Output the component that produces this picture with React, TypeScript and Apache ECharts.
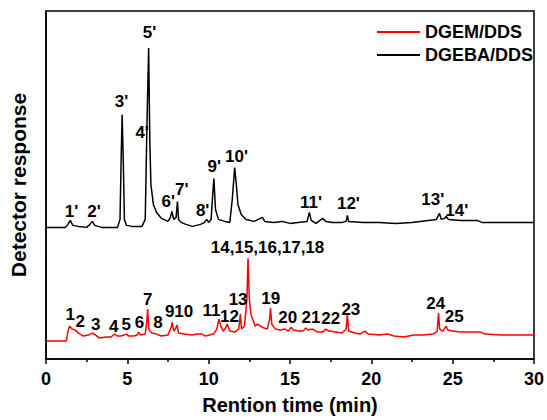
import React, { useEffect, useRef } from "react";
import * as echarts from "echarts";

const xTicks = [0, 5, 10, 15, 20, 25, 30];

// [time (min), response]
const dgemDds: [number, number][] = [
  [0, 18], [1.25, 18], [1.35, 28], [1.45, 33], [1.6, 30], [1.8, 29], [2.0, 26], [2.3, 23], [2.6, 24], [2.85, 26],
  [3.05, 24], [3.3, 21], [3.7, 22], [4.0, 22], [4.2, 25], [4.4, 23], [4.6, 23], [4.8, 24], [4.93, 25], [5.1, 23],
  [5.4, 23], [5.6, 24], [5.7, 27], [5.8, 24], [6.1, 25], [6.2, 38], [6.25, 50], [6.32, 30], [6.5, 26], [6.8, 25],
  [6.92, 24], [7.1, 23], [7.5, 24], [7.7, 32], [7.76, 37], [7.85, 28], [7.95, 30], [8.06, 34], [8.15, 26], [8.5, 25],
  [9.0, 24], [9.3, 25], [9.6, 25], [9.8, 23], [10.3, 25], [10.5, 30], [10.63, 40], [10.75, 33], [10.9, 28], [11.0, 30],
  [11.14, 35], [11.3, 28], [11.6, 27], [11.85, 30], [11.95, 45], [12.02, 30], [12.2, 33], [12.35, 60], [12.42, 101],
  [12.5, 60], [12.6, 45], [12.7, 40], [12.85, 33], [13.0, 35], [13.2, 33], [13.4, 31], [13.6, 30], [13.75, 40],
  [13.8, 51], [13.88, 35], [14.1, 30], [14.4, 29], [14.7, 30], [14.9, 28], [15.07, 32], [15.2, 29], [15.5, 28],
  [15.8, 28], [15.98, 31], [16.1, 29], [16.4, 30], [16.7, 27], [17.0, 27], [17.2, 30], [17.4, 28], [17.8, 27],
  [18.2, 26], [18.45, 30], [18.53, 45], [18.6, 28], [19.0, 26], [19.3, 25], [19.6, 28], [19.8, 25], [20.5, 24],
  [21.0, 25], [21.4, 23], [22.0, 22], [22.6, 24], [23.2, 24], [23.8, 25], [24.05, 28], [24.13, 46], [24.2, 30],
  [24.4, 28], [24.6, 33], [24.7, 29], [25.0, 28], [25.5, 27], [26.0, 27], [26.7, 27], [27.0, 25], [28, 24], [29, 24], [30, 24],
];

const dgebaDds: [number, number][] = [
  [0, 132], [1.2, 132], [1.35, 135], [1.49, 139], [1.65, 134], [2.0, 133], [2.5, 132], [2.7, 135], [2.85, 138],
  [3.0, 134], [3.4, 132], [4.0, 132], [4.4, 132], [4.55, 140], [4.62, 200], [4.68, 245], [4.75, 200], [4.82, 140],
  [4.95, 134], [5.3, 133], [5.9, 133], [6.1, 140], [6.2, 230], [6.31, 312], [6.38, 220], [6.45, 175], [6.6, 155],
  [6.8, 147], [7.1, 141], [7.5, 138], [7.65, 142], [7.74, 148], [7.85, 140], [8.0, 142], [8.08, 158], [8.15, 140],
  [8.3, 137], [8.6, 135], [9.0, 133], [9.5, 135], [9.75, 137], [9.88, 140], [10.0, 137], [10.15, 140], [10.25, 165],
  [10.32, 181], [10.42, 150], [10.6, 140], [11.0, 138], [11.3, 137], [11.45, 160], [11.6, 192], [11.7, 175],
  [11.8, 155], [12.0, 145], [12.3, 140], [12.8, 138], [13.3, 142], [13.45, 138], [14.0, 137], [14.5, 138],
  [15.0, 136], [15.5, 137], [16.05, 138], [16.19, 147], [16.3, 139], [16.6, 136], [17.0, 141], [17.2, 138],
  [17.6, 137], [18.2, 137], [18.45, 138], [18.53, 144], [18.6, 138], [19.5, 137], [20.5, 137], [21.5, 136],
  [22.5, 137], [23.5, 139], [24.0, 140], [24.19, 146], [24.3, 140], [24.5, 141], [24.6, 143], [24.75, 140],
  [25.5, 139], [26.5, 139], [26.8, 137], [28, 137], [30, 137],
];

// peak labels: [time, response, text]
const dgebaLabels: [number, number, string][] = [
  [1.57, 148, "1'"], [2.95, 148, "2'"], [4.64, 258, "3'"], [5.91, 227, "4'"], [6.37, 327, "5'"],
  [7.52, 158, "6'"], [8.35, 170, "7'"], [9.63, 149, "8'"], [10.34, 193, "9'"], [11.71, 203, "10'"],
  [16.29, 157, "11'"], [18.59, 156, "12'"], [23.78, 160, "13'"], [25.25, 149, "14'"],
];

const dgemLabels: [number, number, string][] = [
  [1.49, 45, "1"], [2.1, 38, "2"], [3.05, 35, "3"], [4.17, 33, "4"], [4.93, 35, "5"], [5.74, 37, "6"],
  [6.25, 60, "7"], [6.88, 37, "8"], [7.6, 48, "9"], [8.47, 48, "10"], [10.18, 49, "11"], [11.28, 43, "12"],
  [11.81, 60, "13"], [13.62, 112, "14,15,16,17,18"], [13.81, 61, "19"], [14.86, 42, "20"], [16.29, 42, "21"],
  [17.5, 41, "22"], [18.74, 50, "23"], [23.96, 56, "24"], [25.1, 43, "25"],
];

const FONT = "'Liberation Sans', Arial, sans-serif";

export default function App() {
  const ref = useRef<HTMLDivElement>(null);
  useEffect(() => {
    if (!ref.current) return;
    const chart = echarts.init(ref.current, null, { renderer: "svg" });
    const labelSeries = (data: [number, number, string][]) => ({
      type: "scatter",
      data,
      symbolSize: 0,
      silent: true,
      z: 5,
      itemStyle: { opacity: 1, color: "#000" },
      label: {
        show: true,
        position: "inside",
        formatter: (p: any) => p.data[2],
        color: "#000",
        opacity: 1,
        textBorderWidth: 0,
        fontSize: 17,
        lineHeight: 15,
        fontWeight: "bold",
        fontFamily: FONT,
      },
    });
    chart.setOption({
      animation: false,
      backgroundColor: "#fff",
      grid: {
        left: 45, right: 11, top: 11, bottom: 60,
        show: true, borderColor: "#000", borderWidth: 1.5,
      },
      legend: {
        data: ["DGEM/DDS", "DGEBA/DDS"],
        orient: "vertical",
        left: 372,
        top: 18,
        icon: "rect",
        itemWidth: 43,
        itemHeight: 2,
        itemGap: 5,
        textStyle: { fontSize: 18, fontWeight: "bold", fontFamily: FONT, color: "#000", lineHeight: 18 },
      },
      xAxis: {
        type: "value",
        min: 0, max: 30, interval: 5,
        name: "Rention time (min)",
        nameLocation: "middle",
        nameGap: 36,
        nameTextStyle: { fontSize: 20, fontWeight: "bold", fontFamily: FONT, color: "#000" },
        axisLine: { show: true, lineStyle: { color: "#000", width: 1.5 } },
        axisTick: { show: true, inside: false, length: 5, lineStyle: { color: "#000", width: 1.5 } },
        minorTick: { show: true, splitNumber: 2, length: 3, lineStyle: { color: "#000", width: 1.5 } },
        axisLabel: {
          margin: 11, fontSize: 18, fontWeight: "bold", fontFamily: FONT, color: "#000",
          formatter: (v: number) => (xTicks.includes(v) ? String(v) : ""),
        },
        splitLine: { show: false },
      },
      yAxis: {
        type: "value",
        min: 0, max: 349,
        name: "Detector response",
        nameLocation: "middle",
        nameGap: 17,
        nameTextStyle: { fontSize: 21, fontWeight: "bold", fontFamily: FONT, color: "#000" },
        axisLine: { show: true, lineStyle: { color: "#000", width: 1.5 } },
        axisTick: { show: false },
        axisLabel: { show: false },
        splitLine: { show: false },
      },
      series: [
        {
          name: "DGEM/DDS", type: "line", data: dgemDds, symbol: "none",
          lineStyle: { color: "#ff0000", width: 1.5 }, itemStyle: { color: "#ff0000" },
        },
        {
          name: "DGEBA/DDS", type: "line", data: dgebaDds, symbol: "none",
          lineStyle: { color: "#000", width: 1.5 }, itemStyle: { color: "#000" },
        },
        labelSeries(dgebaLabels),
        labelSeries(dgemLabels),
      ],
    });
    return () => chart.dispose();
  }, []);
  return <div ref={ref} style={{ width: 547, height: 420, position: "absolute", left: 0, top: 0 }} />;
}
